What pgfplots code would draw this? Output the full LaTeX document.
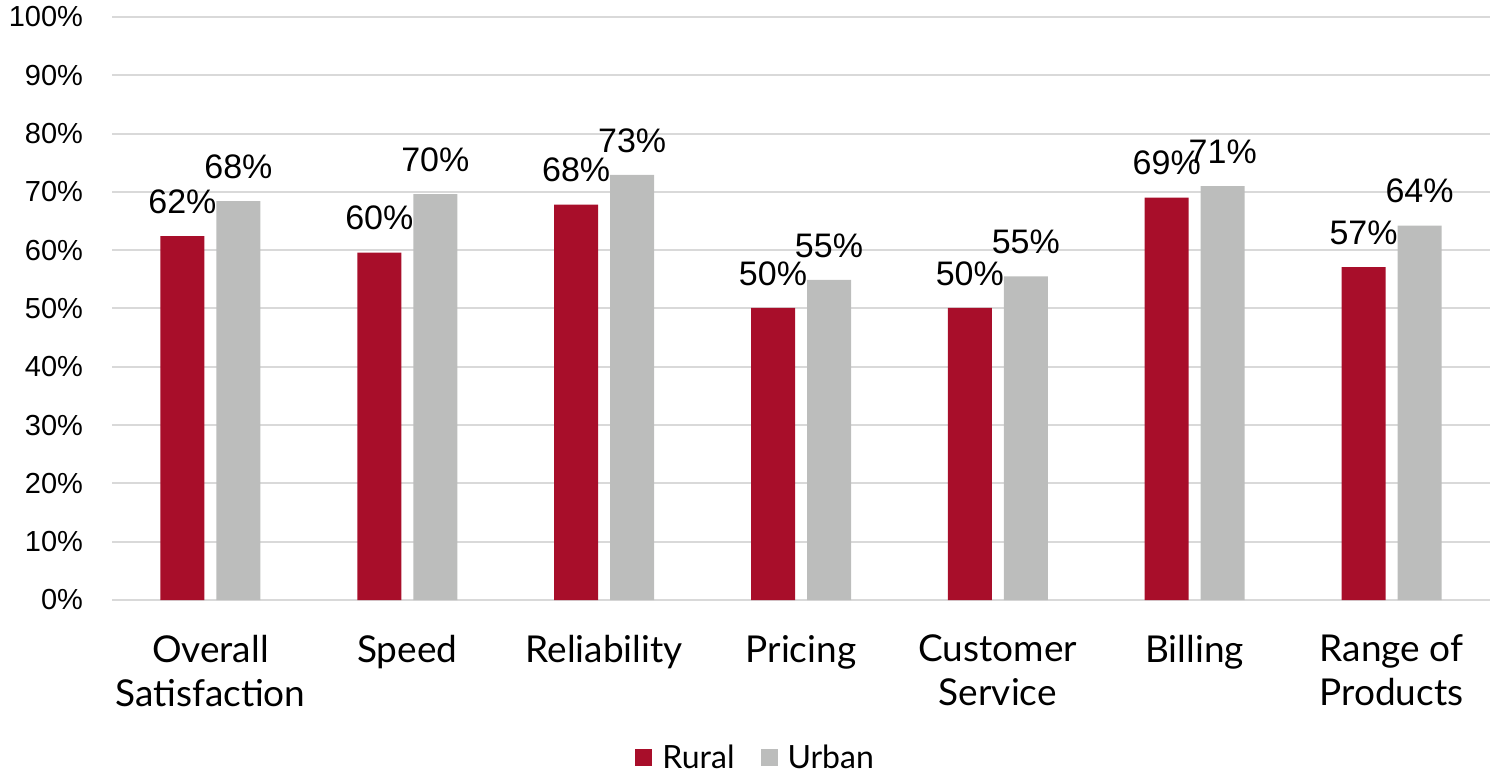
\documentclass[border=0pt]{standalone}
\usepackage{fontspec}
\setmainfont{Liberation Sans}
\newfontfamily\catfont{Lato}
\usepackage{pgfplots}
\pgfplotsset{compat=1.18}
\definecolor{rural}{RGB}{168,14,42}
\definecolor{urban}{RGB}{188,189,188}
\definecolor{gridc}{RGB}{217,217,217}
\begin{document}
\begin{tikzpicture}
\useasboundingbox (-56bp,-87bp) rectangle (691bp,300bp);
\begin{axis}[
  scale only axis, width=689bp, height=291.5bp,
  ybar=0pt, bar width=22bp,
  ymin=0, ymax=100, xmin=-0.5, xmax=6.5,
  axis line style={draw=none},
  axis x line*=bottom,
  ytick={0,10,...,100},
  yticklabels={0\%,10\%,20\%,30\%,40\%,50\%,60\%,70\%,80\%,90\%,100\%},
  yticklabel style={font=\fontsize{14.5bp}{16bp}\selectfont, xshift=-11bp},
  ymajorgrids, grid style={gridc, line width=1bp},
  major tick length=0pt,
  xtick={0,...,6},
  xticklabels={Overall\\Satisfaction,Speed,Reliability,Pricing,Customer\\Service,Billing,Range of\\Products},
  xticklabel style={font=\catfont\fontsize{18.5bp}{22bp}\selectfont, align=center, anchor=north, yshift=-14bp},
  nodes near coords, point meta=explicit symbolic,
  every node near coord/.append style={font=\fontsize{17bp}{19bp}\selectfont, anchor=south, inner sep=0pt, yshift=11bp},
  legend style={draw=none, at={(0.47,-0.271)}, anchor=center, legend columns=2,
    font=\catfont\fontsize{16bp}{18bp}\selectfont,
    nodes={inner xsep=5bp},
    /tikz/every even column/.append style={column sep=8bp}},
  legend image code/.code={\fill[#1] (0bp,-4.25bp) rectangle (8.5bp,4.25bp);},
  clip=false,
]
\draw[gridc, line width=1bp] (axis cs:-0.5,0) -- (axis cs:6.5,0);
\addplot[bar shift=-14bp, fill=rural, draw=none] coordinates {
  (0,62.4)[62\%] (1,59.6)[60\%] (2,67.8)[68\%] (3,50.1)[50\%] (4,50.1)[50\%] (5,69.0)[69\%] (6,57.1)[57\%]};
\addlegendentry{Rural}
\addplot[bar shift=14bp, fill=urban, draw=none] coordinates {
  (0,68.4)[68\%] (1,69.6)[70\%] (2,72.9)[73\%] (3,54.9)[55\%] (4,55.5)[55\%] (5,71.0)[71\%] (6,64.2)[64\%]};
\addlegendentry{Urban}
\end{axis}
\end{tikzpicture}
\end{document}
